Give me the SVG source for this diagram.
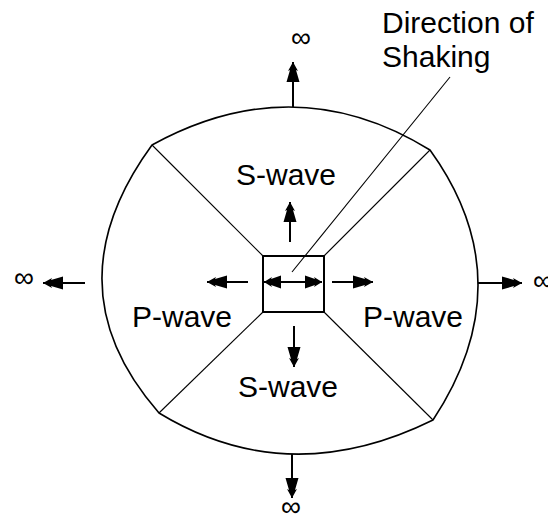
<svg xmlns="http://www.w3.org/2000/svg" width="548" height="518" viewBox="0 0 548 518">
  <defs>
    <marker id="ah" markerUnits="userSpaceOnUse" markerWidth="26" markerHeight="18" viewBox="-22 -9 24 18" refX="0" refY="0" orient="auto">
      <path d="M0,0 L-9,-5 L-8,-3 L-20,-6.5 L-20,6.5 L-8,3 L-9,5 Z" fill="#000"/>
    </marker>
    <marker id="ahs" markerUnits="userSpaceOnUse" markerWidth="26" markerHeight="18" viewBox="-22 -9 24 18" refX="0" refY="0" orient="auto-start-reverse">
      <path d="M0,0 L-8,-5 L-7,-3 L-17,-6.5 L-17,6.5 L-7,3 L-8,5 Z" fill="#000"/>
    </marker>
    <style>
      .lbl { font-family: "Liberation Sans", Arial, sans-serif; font-size: 30px; fill: #000; }
      .inf { font-family: "Liberation Sans", Arial, sans-serif; font-size: 28px; fill: #000; text-anchor: middle; }
      .outline { fill: none; stroke: #000; stroke-width: 1.6; }
      .thin { fill: none; stroke: #000; stroke-width: 1.1; }
      .arrow { fill: none; stroke: #000; stroke-width: 2; marker-end: url(#ah); }
    </style>
  </defs>

  <g id="boundary">
    <path class="outline" d="M152,145 Q295,66.5 430,150 Q524.5,281 433,420 Q288,491.5 159,413 Q48.5,287 152,145 Z"/>
  </g>

  <g id="connectors">
    <line class="thin" x1="152" y1="145" x2="263" y2="256"/>
    <line class="thin" x1="159" y1="413" x2="263" y2="312"/>
    <line class="thin" x1="324" y1="312" x2="433" y2="420"/>
    <line class="thin" x1="324" y1="256" x2="430" y2="150"/>
    <line class="thin" x1="450" y1="77" x2="292" y2="272"/>
    <line class="arrow" x1="293" y1="107" x2="293" y2="62"/>
    <line class="arrow" x1="292" y1="454" x2="292" y2="498"/>
    <line class="arrow" x1="85" y1="283" x2="43" y2="283"/>
    <line class="arrow" x1="478" y1="283" x2="522" y2="283"/>
    <line class="arrow" x1="290" y1="242" x2="290" y2="202"/>
    <line class="arrow" x1="294" y1="326" x2="294" y2="367"/>
    <line class="arrow" x1="248" y1="282" x2="207" y2="282"/>
    <line class="arrow" x1="332" y1="282" x2="373" y2="282"/>
    <line x1="264" y1="282" x2="322" y2="282" stroke="#000" stroke-width="2" marker-start="url(#ahs)" marker-end="url(#ahs)"/>
  </g>

  <g id="source">
    <rect x="263" y="256" width="61" height="56" fill="none" stroke="#000" stroke-width="2"/>
  </g>

  <g id="labels">
    <text class="lbl" x="286" y="185" text-anchor="middle">S-wave</text>
    <text class="lbl" x="288" y="397" text-anchor="middle">S-wave</text>
    <text class="lbl" x="132" y="327">P-wave</text>
    <text class="lbl" x="363" y="327">P-wave</text>
    <text class="lbl" x="382" y="33">Direction of</text>
    <text class="lbl" x="382" y="67">Shaking</text>
  </g>

  <g id="infinity">
    <text class="inf" x="301" y="47">∞</text>
    <text class="inf" x="291" y="516">∞</text>
    <text class="inf" x="24" y="287">∞</text>
    <text class="inf" x="543" y="290">∞</text>
  </g>
</svg>
